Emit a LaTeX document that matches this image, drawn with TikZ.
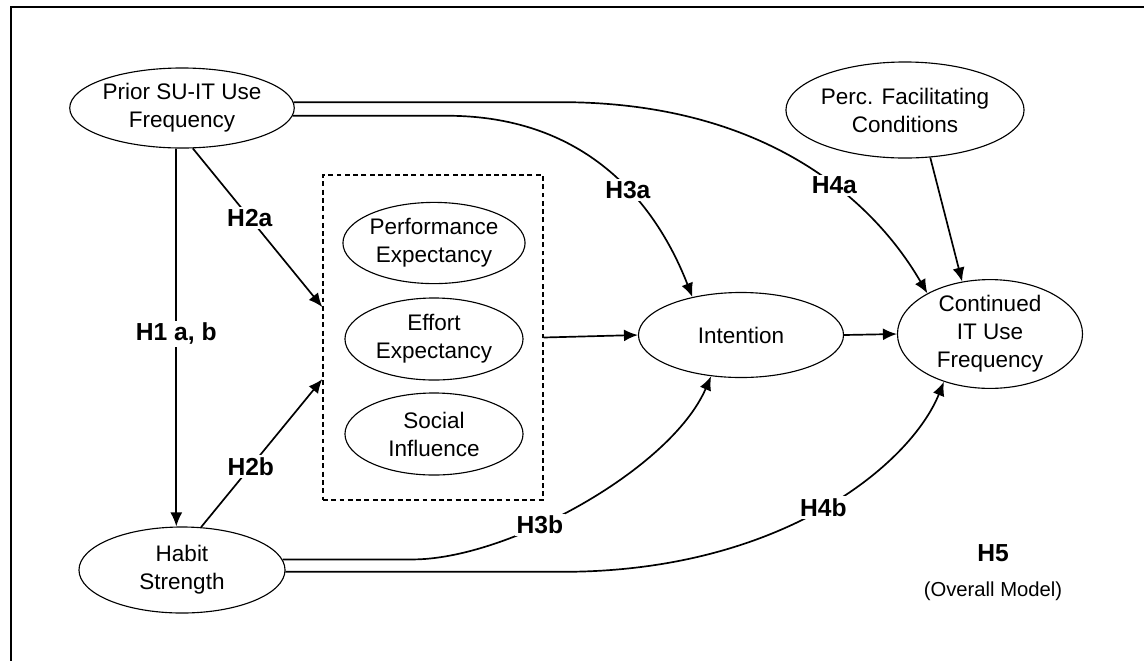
\documentclass[tikz,border=0pt]{standalone}
\usepackage{fontspec}
\setmainfont{Liberation Sans}
\usetikzlibrary{positioning,shapes,arrows.meta}

\begin{document}
\begin{tikzpicture}
  [x=0.025cm,y=-0.025cm,>={Latex[length=3.5mm,width=3mm]},
   every node/.style={font=\fontsize{16}{19.9}\selectfont, align=center},
   var/.style={draw, ellipse, inner sep=0pt, line width=0.8pt},
   hyp/.style={fill=white, inner sep=1.5pt, font=\fontsize{17.5}{21}\selectfont\bfseries},
   link/.style={line width=1.2pt}]
  \useasboundingbox (0,0) rectangle (1144,660);
  \draw[line width=1.3pt] (11,7) rectangle (1180,700);

  \node[var, minimum width=5.15cm, minimum height=2cm] (prior) at (182,108) {Prior SU-IT Use\\Frequency};
  \node[var, minimum width=5.15cm, minimum height=2.15cm] (habit) at (182,570) {Habit\\Strength};
  \node[var, minimum width=5.15cm, minimum height=2.4cm] (pfc) at (905,110) {Perc. Facilitating\\Conditions};

  \node[draw, dashed, dash pattern=on 3.5pt off 2.4pt, line width=0.9pt,
        minimum width=5.5cm, minimum height=8.125cm] (box) at (433,337.5) {};
  \node[var, minimum width=4.45cm, minimum height=2.03cm] (perf) at (434,243) {Performance\\Expectancy};
  \node[var, minimum width=4.45cm, minimum height=2.05cm] (effort) at (434,339) {Effort\\Expectancy};
  \node[var, minimum width=4.45cm, minimum height=2.05cm] (social) at (434,434) {Social\\Influence};

  \node[var, minimum width=5.125cm, minimum height=2.125cm] (intent) at (741,335) {Intention};
  \node[var, minimum width=4.625cm, minimum height=2.4cm] (cont) at (990,334) {Continued\\IT Use\\Frequency};

  \node[hyp, fill=none] (h5) at (993,553) {H5};
  \node[font=\fontsize{14.4}{17}\selectfont] (overall) at (993,591) {(Overall Model)};

  % straight paths
  \draw[link,->] (prior.-98) -- (prior.-98 |- habit.north) node[hyp, pos=0.49] {H1 a, b};
  \draw[link,->] (prior.-75) -- ([yshift=0.76cm]box.west) node[hyp, pos=0.44] {H2a};
  \draw[link,->] (habit.66) -- ([yshift=-1.04cm]box.west) node[hyp, pos=0.41] {H2b};
  \foreach \from/\to in {box.east/intent.west, intent.east/cont.west, pfc.-62/cont.118}
    \draw[link,->] (\from) -- (\to);

  % curved paths
  \draw[link,->] (prior.-4) -- ++(154,0) .. controls +(143,0) and +(-35,-90) .. (intent.142)
    node[hyp, pos=0.58] {H3a};
  \draw[link,->] (prior.3) -- ++(267,0) .. controls +(250,0) and +(-27,-46) .. (cont.147)
    node[hyp, pos=0.52] {H4a};
  \draw[link,->] (habit.6) -- ++(130,0) .. controls +(95,0) and +(-40,93) .. (intent.-126)
    node[hyp, pos=0.38] {H3b};
  \draw[link,->] (habit.-1) -- ++(277,0) .. controls +(220,0) and +(-33,82) .. (cont.-134)
    node[hyp, pos=0.5] {H4b};
\end{tikzpicture}
\end{document}
